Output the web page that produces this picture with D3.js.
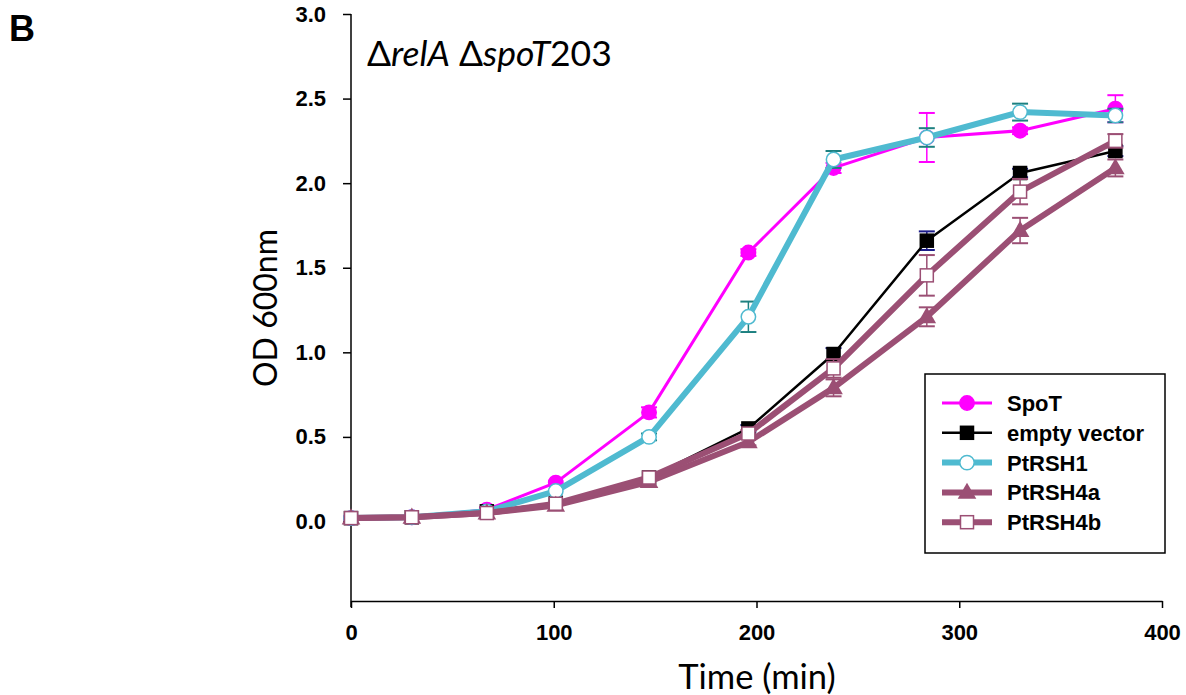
<!DOCTYPE html>
<html>
<head>
<meta charset="utf-8">
<script src="https://cdn.jsdelivr.net/npm/d3@7"></script>
<style>
  body { margin: 0; background: #fff; }
</style>
</head>
<body>
<div id="chart"></div>
<script>
// sampling times (min)
let times = [0, 30, 67, 101, 147, 196, 238, 284, 330, 377]

// OD600 readings per strain
let spoT      = [0.02, 0.025, 0.07, 0.23, 0.645, 1.59, 2.09, 2.27, 2.31, 2.44]
let emptyVec  = [0.02, 0.025, 0.06, 0.11, 0.26, 0.55, 0.99, 1.66, 2.06, 2.19]
let ptRSH1    = [0.02, 0.025, 0.06, 0.18, 0.50, 1.21, 2.14, 2.27, 2.42, 2.40]
let ptRSH4a   = [0.02, 0.025, 0.05, 0.095, 0.235, 0.47, 0.79, 1.21, 1.72, 2.09]
let ptRSH4b   = [0.02, 0.025, 0.05, 0.105, 0.26, 0.52, 0.905, 1.455, 1.95, 2.25]

// standard deviations
let spoTErr     = [0.005, 0.005, 0.01, 0.01, 0.03, 0.02, 0.03, 0.145, 0.02, 0.08]
let emptyVecErr = [0.005, 0.005, 0.005, 0.01, 0.01, 0.02, 0.035, 0.055, 0.025, 0.03]
let ptRSH1Err   = [0.005, 0.005, 0.005, 0.01, 0.02, 0.09, 0.05, 0.055, 0.05, 0.04]
let ptRSH4aErr  = [0.005, 0.005, 0.005, 0.01, 0.01, 0.02, 0.05, 0.056, 0.075, 0.05]
let ptRSH4bErr  = [0.005, 0.005, 0.005, 0.01, 0.01, 0.02, 0.055, 0.12, 0.075, 0.04]

let seriesNames = ['SpoT', 'empty vector', 'PtRSH1', 'PtRSH4a', 'PtRSH4b']

let xTicks = [0, 100, 200, 300, 400]
let yTicks = [0, 0.5, 1.0, 1.5, 2.0, 2.5, 3.0]

let mauve = '#9b4f74'

let series = [
	{name: seriesNames[0], vals: spoT, err: spoTErr, color: '#ff00ff', errColor: '#ff00ff', width: 3, marker: 'circle', fill: '#ff00ff'},
	{name: seriesNames[1], vals: emptyVec, err: emptyVecErr, color: '#000000', errColor: '#1c1c8a', width: 2.5, marker: 'square', fill: '#000000'},
	{name: seriesNames[2], vals: ptRSH1, err: ptRSH1Err, color: '#4fbad0', errColor: '#1d8080', width: 6, marker: 'circle', fill: '#ffffff'},
	{name: seriesNames[3], vals: ptRSH4a, err: ptRSH4aErr, color: mauve, errColor: mauve, width: 6, marker: 'triangle', fill: mauve},
	{name: seriesNames[4], vals: ptRSH4b, err: ptRSH4bErr, color: mauve, errColor: mauve, width: 6, marker: 'square', fill: '#ffffff'}
]

let width = 1186
let height = 695

let boldFont = '"Liberation Sans", Arial, sans-serif'
let labelFont = 'Lato, "Open Sans", sans-serif'

const svg = d3.select('#chart')
	.append('svg')
	.attr('width', width)
	.attr('height', height)

x = d3.scaleLinear()
	.domain([0, 400])
	.range([351, 1162])

y = d3.scaleLinear()
	.domain([-0.47, 3])
	.range([601, 14])

// panel letter
svg.append('text')
	.attr('x', 9)
	.attr('y', 41)
	.attr('font-family', boldFont)
	.attr('font-weight', 'bold')
	.attr('font-size', 36)
	.text('B')

// axes
svg.append('g')
	.attr('transform', `translate(${x(0)},0)`)
	.call(d3.axisLeft(y).tickValues(yTicks).tickFormat(d3.format('.1f')).tickSizeInner(8).tickSizeOuter(0).tickPadding(17))
	.call(g => g.select('.domain').remove())

svg.append('line')
	.attr('x1', x(0)).attr('x2', x(0))
	.attr('y1', y(3)).attr('y2', 607)
	.attr('stroke', '#000').attr('stroke-width', 1.5)

svg.append('g')
	.attr('transform', `translate(0,${y(-0.47)})`)
	.call(d3.axisBottom(x).tickValues(xTicks).tickSizeInner(7).tickSizeOuter(0).tickPadding(16))
	.call(g => g.select('.domain').attr('stroke-width', 1.5))

svg.selectAll('.tick line').attr('stroke-width', 1.5)
svg.selectAll('.tick text')
	.attr('font-family', boldFont)
	.attr('font-weight', 'bold')
	.attr('font-size', 22)
	.attr('fill', '#000')

// axis titles
svg.append('text')
	.attr('x', 757)
	.attr('y', 689)
	.attr('text-anchor', 'middle')
	.attr('font-family', labelFont)
	.attr('font-size', 34.5)
	.text('Time (min)')

svg.append('text')
	.attr('transform', 'translate(277,308) rotate(-90)')
	.attr('text-anchor', 'middle')
	.attr('font-family', labelFont)
	.attr('font-size', 32)
	.text('OD 600nm')

// strain label
let label = svg.append('text')
	.attr('x', 367)
	.attr('y', 66)
	.attr('font-family', labelFont)
	.attr('font-size', 35.5)
label.append('tspan').text('\u0394')
label.append('tspan').attr('font-style', 'italic').text('relA')
label.append('tspan').text(' \u0394')
label.append('tspan').attr('font-style', 'italic').text('spoT')
label.append('tspan').text('203')

function drawMarker(g, s, cx, cy){
	if (s.marker == 'circle'){
		g.append('circle')
			.attr('cx', cx).attr('cy', cy).attr('r', 7.2)
			.attr('fill', s.fill)
			.attr('stroke', s.fill == '#ffffff' ? s.color : s.fill)
			.attr('stroke-width', 1.5)
	}
	else if (s.marker == 'square'){
		let h = 6.5
		g.append('rect')
			.attr('x', cx - h).attr('y', cy - h)
			.attr('width', 2 * h).attr('height', 2 * h)
			.attr('fill', s.fill)
			.attr('stroke', s.fill == '#ffffff' ? s.color : s.fill)
			.attr('stroke-width', 1.5)
	}
	else {
		g.append('path')
			.attr('d', d3.symbol().type(d3.symbolTriangle).size(150)())
			.attr('transform', `translate(${cx},${cy + 1})`)
			.attr('fill', s.fill)
	}
}

let line = d3.line()
	.x((d, i) => x(times[i]))
	.y(d => y(d))

series.forEach(function(s){

	let g = svg.append('g')

	// error bars
	s.vals.forEach(function(v, i){
		let e = s.err[i]
		if (e < 0.015) return
		let cx = x(times[i])
		g.append('line')
			.attr('x1', cx).attr('x2', cx)
			.attr('y1', y(v - e)).attr('y2', y(v + e))
			.attr('stroke', s.errColor).attr('stroke-width', 1.5)
		;[v - e, v + e].forEach(function(t){
			g.append('line')
				.attr('x1', cx - 8).attr('x2', cx + 8)
				.attr('y1', y(t)).attr('y2', y(t))
				.attr('stroke', s.errColor).attr('stroke-width', 2)
		})
	})

	g.append('path')
		.datum(s.vals)
		.attr('d', line)
		.attr('fill', 'none')
		.attr('stroke', s.color)
		.attr('stroke-width', s.width)
		.attr('stroke-linejoin', 'round')

	s.vals.forEach(function(v, i){
		drawMarker(g, s, x(times[i]), y(v))
	})
})

// legend
let legend = svg.append('g')

legend.append('rect')
	.attr('x', 925).attr('y', 374)
	.attr('width', 240).attr('height', 179)
	.attr('fill', '#fff')
	.attr('stroke', '#000')
	.attr('stroke-width', 1.5)

series.forEach(function(s, i){
	let ly = 403 + i * 29.8
	legend.append('line')
		.attr('x1', 942).attr('x2', 992)
		.attr('y1', ly).attr('y2', ly)
		.attr('stroke', s.color)
		.attr('stroke-width', s.width)
	drawMarker(legend, s, 967, ly)
	legend.append('text')
		.attr('x', 1007)
		.attr('y', ly + 8)
		.attr('font-family', boldFont)
		.attr('font-weight', 'bold')
		.attr('font-size', 22)
		.text(s.name)
})
</script>
</body>
</html>
